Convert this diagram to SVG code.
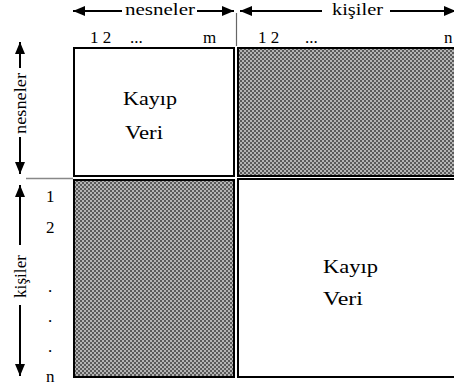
<svg xmlns="http://www.w3.org/2000/svg" width="454" height="387" viewBox="0 0 454 387" font-family="'Liberation Serif', 'Times New Roman', Times, 'DejaVu Serif', serif">
<style>
text{font-family:'Liberation Serif','Times New Roman',Times,'DejaVu Serif',serif;fill:#000}
.box{stroke:#000;stroke-width:2}
.white{fill:#fff}
.shade{fill:url(#dots)}
.lbl{font-size:17px}
.big{font-size:18px}
.arr{stroke:#000;stroke-width:2;fill:none;marker-end:url(#head)}
</style>
<defs>
<pattern id="dots" width="4" height="4" patternUnits="userSpaceOnUse">
<rect width="4" height="4" fill="#b4b4b4"/>
<rect width="2" height="2" fill="#5a5a5a"/>
<rect x="2" y="2" width="2" height="2" fill="#5a5a5a"/>
</pattern>
<marker id="head" viewBox="0 0 12 10" refX="12" refY="5" markerWidth="12" markerHeight="10" markerUnits="userSpaceOnUse" orient="auto">
<path d="M0,0 L12,5 L0,10 z" fill="#000"/>
</marker>
</defs>
<rect width="454" height="387" fill="#fff"/>

<g id="tl-missing">
<rect class="box white" x="74" y="48" width="160" height="128"/>
<text class="big" x="123" y="105" textLength="54" lengthAdjust="spacingAndGlyphs">Kayıp</text>
<text class="big" x="125" y="139" textLength="38" lengthAdjust="spacingAndGlyphs">Veri</text>
</g>
<g id="tr-shaded">
<rect class="box shade" x="238" y="48" width="230" height="128"/>
</g>
<g id="bl-shaded">
<rect class="box shade" x="74" y="180" width="160" height="197"/>
</g>
<g id="br-missing">
<rect class="box white" x="238" y="179" width="230" height="198"/>
<text class="big" x="323" y="273" textLength="55" lengthAdjust="spacingAndGlyphs">Kayıp</text>
<text class="big" x="323" y="305" textLength="40" lengthAdjust="spacingAndGlyphs">Veri</text>
</g>

<g id="connectors">
<line x1="26" y1="178.5" x2="73" y2="178.5" stroke="#888" stroke-width="1.5"/>
<line x1="236.5" y1="13" x2="236.5" y2="46" stroke="#666" stroke-width="1.2"/>
<line class="arr" x1="122" y1="11" x2="73" y2="11"/>
<line class="arr" x1="197" y1="11" x2="234" y2="11"/>
<line class="arr" x1="322" y1="11" x2="240" y2="11"/>
<line class="arr" x1="390" y1="11" x2="456" y2="11"/>
<line class="arr" x1="20" y1="68" x2="20" y2="42"/>
<line class="arr" x1="20" y1="137" x2="20" y2="174"/>
<line class="arr" x1="20" y1="245" x2="20" y2="185"/>
<line class="arr" x1="20" y1="305" x2="20" y2="376"/>
</g>

<g id="labels">
<text class="lbl" x="125" y="15" textLength="70" lengthAdjust="spacingAndGlyphs">nesneler</text>
<text class="lbl" x="332" y="15" textLength="51" lengthAdjust="spacingAndGlyphs">kişiler</text>
<text class="lbl" x="90" y="43">1 2</text>
<text class="lbl" x="130" y="43">...</text>
<text class="lbl" x="203" y="43">m</text>
<text class="lbl" x="258" y="43">1 2</text>
<text class="lbl" x="305" y="43">...</text>
<text class="lbl" x="444" y="43">n</text>
<text class="lbl" transform="translate(26,134) rotate(-90)" textLength="61" lengthAdjust="spacingAndGlyphs">nesneler</text>
<text class="lbl" transform="translate(26,298) rotate(-90)" textLength="43" lengthAdjust="spacingAndGlyphs">kişiler</text>
<text class="lbl" x="46" y="202">1</text>
<text class="lbl" x="46" y="233">2</text>
<text class="lbl" x="48" y="292">.</text>
<text class="lbl" x="48" y="322">.</text>
<text class="lbl" x="48" y="352">.</text>
<text class="lbl" x="46" y="382">n</text>
</g>
</svg>
